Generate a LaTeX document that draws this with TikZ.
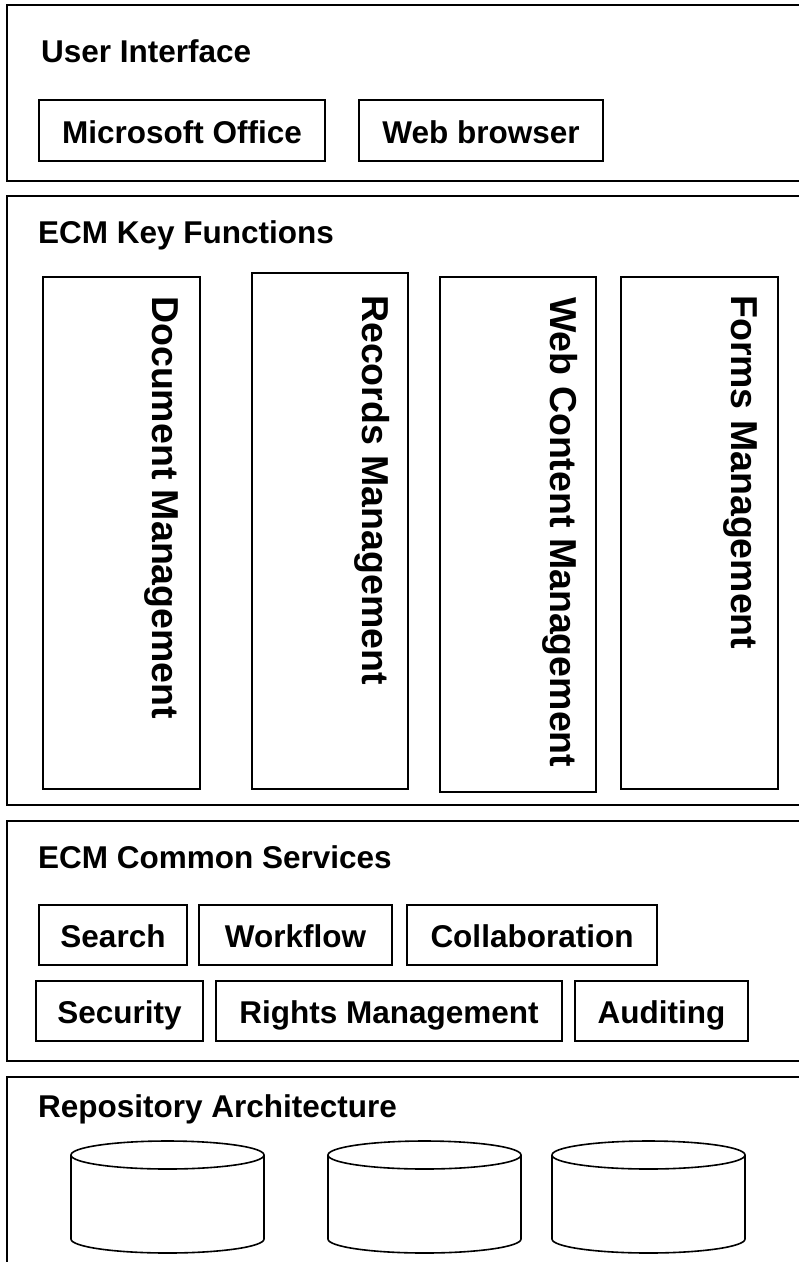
\documentclass[tikz,border=0pt]{standalone}
\usepackage{fontspec}
\setmainfont{Liberation Sans}
\begin{document}
\begin{tikzpicture}[x=1pt,y=-1pt,
  panel/.style={draw=black, line width=2pt},
  head/.style={anchor=base west, inner sep=0pt, font=\fontsize{31.5}{36}\selectfont\bfseries},
  item/.style={draw=black, line width=2pt, inner sep=0pt, text height=25pt, text depth=0pt,
    font=\fontsize{31.5}{36}\selectfont\bfseries},
  vbox/.style={draw=black, line width=2pt, inner sep=0pt},
  vlabel/.style={rotate=-90, anchor=base west, inner sep=0pt, font=\fontsize{37.5}{42}\selectfont\bfseries},
  cyl/.style={draw=black, line width=1.6pt}]
\useasboundingbox (0,0) rectangle (799,1262);
\clip (0,0) rectangle (799,1262);
\fill[white] (0,0) rectangle (799,1262);

% panels
\draw[panel] (7,5) rectangle (830,181);
\draw[panel] (7,196) rectangle (830,805);
\draw[panel] (7,821) rectangle (830,1061);
\draw[panel] (7,1077) rectangle (830,1300);

% User Interface
\node[head] (uititle) at (41,62.7) {User Interface};
\node[item, minimum width=286pt, minimum height=61pt] (office) at (182,130.5) {Microsoft Office};
\node[item, minimum width=244pt, minimum height=61pt] (browser) at (481,130.5) {Web browser};

% ECM Key Functions
\node[head] (keytitle) at (38,243) {ECM Key Functions};
\node[vbox, minimum width=157pt, minimum height=512pt] (doc) at (121.5,533) {};
\node[vbox, minimum width=156pt, minimum height=516pt] (rec) at (330,531) {};
\node[vbox, minimum width=156pt, minimum height=515pt] (web) at (518,534.5) {};
\node[vbox, minimum width=157pt, minimum height=512pt] (forms) at (699.5,533) {};
\node[vlabel] (doclbl) at (152.5,296) {Document Management};
\node[vlabel] (reclbl) at (362,295) {Records Management};
\node[vlabel] (weblbl) at (550,297) {Web Content Management};
\node[vlabel] (formslbl) at (731,295) {Forms Management};

% ECM Common Services
\node[head] (svctitle) at (38,868) {ECM Common Services};
\node[item, minimum width=148pt, minimum height=60pt] (search) at (113,935) {Search};
\node[item, minimum width=193pt, minimum height=60pt] (workflow) at (295.5,935) {Workflow};
\node[item, minimum width=250pt, minimum height=60pt] (collab) at (532,935) {Collaboration};
\node[item, minimum width=167pt, minimum height=60pt] (security) at (119.5,1011) {Security};
\node[item, minimum width=346pt, minimum height=60pt] (rights) at (389,1011) {Rights Management};
\node[item, minimum width=173pt, minimum height=60pt] (auditing) at (661.5,1011) {Auditing};

% Repository Architecture
\node[head] (repotitle) at (38,1117) {Repository Architecture};
\draw[cyl] (71,1155) -- (71,1239) .. controls (71,1246.7) and (114.2,1253) .. (167.5,1253)
  .. controls (220.8,1253) and (264,1246.7) .. (264,1239) -- (264,1155);
\draw[cyl] (167.5,1155) ellipse [x radius=96.5, y radius=14];
\draw[cyl] (328,1155) -- (328,1239) .. controls (328,1246.7) and (371.2,1253) .. (424.5,1253)
  .. controls (477.8,1253) and (521,1246.7) .. (521,1239) -- (521,1155);
\draw[cyl] (424.5,1155) ellipse [x radius=96.5, y radius=14];
\draw[cyl] (552,1155) -- (552,1239) .. controls (552,1246.7) and (595.2,1253) .. (648.5,1253)
  .. controls (701.8,1253) and (745,1246.7) .. (745,1239) -- (745,1155);
\draw[cyl] (648.5,1155) ellipse [x radius=96.5, y radius=14];
\end{tikzpicture}
\end{document}
